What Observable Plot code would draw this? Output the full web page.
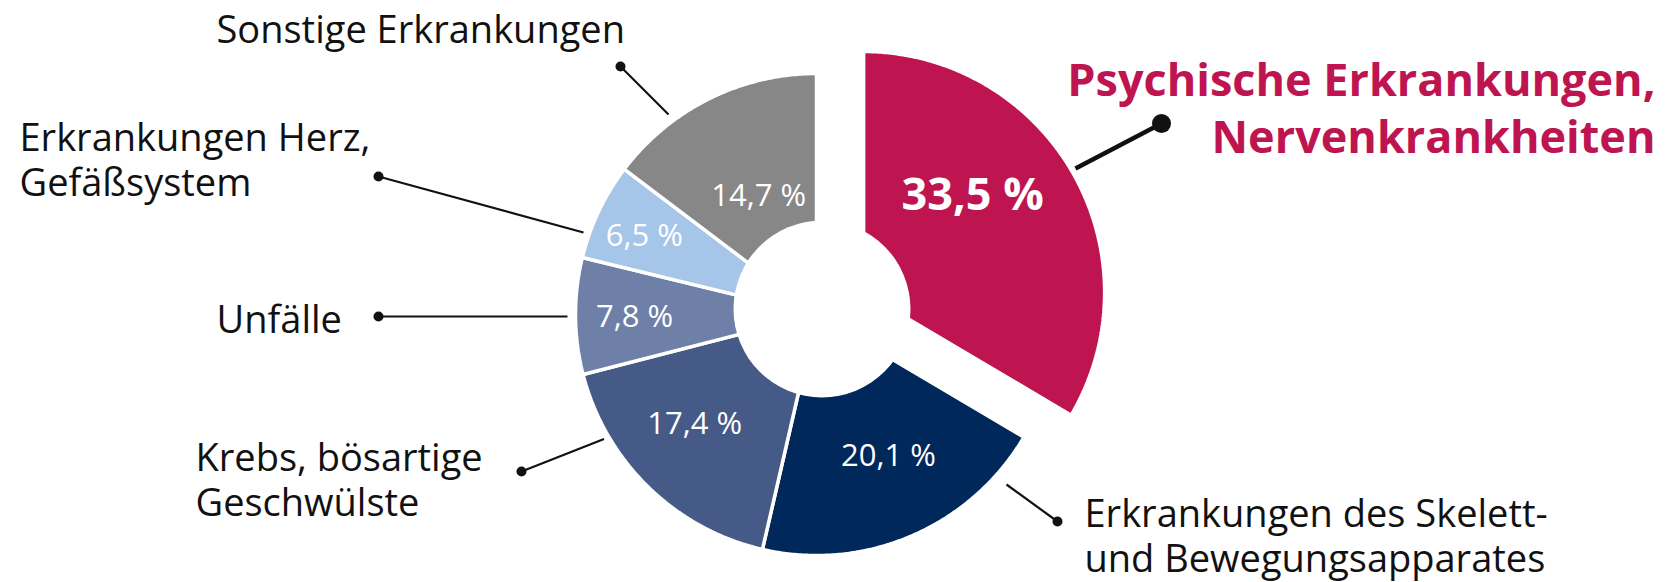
<!DOCTYPE html>
<html>
<head>
<meta charset="utf-8">
<script src="https://cdn.jsdelivr.net/npm/d3@7"></script>
<script src="https://cdn.jsdelivr.net/npm/@observablehq/plot@0.6"></script>
<style>
  html, body { margin: 0; padding: 0; background: #ffffff; }
  #chart { width: 1669px; height: 582px; }
</style>
</head>
<body>
<div id="chart"></div>
<script>
// ---------- DATA ----------
const categories = [
  "Psychische Erkrankungen,\nNervenkrankheiten",
  "Erkrankungen des Skelett-\nund Bewegungsapparates",
  "Krebs, bösartige\nGeschwülste",
  "Unfälle",
  "Erkrankungen Herz,\nGefäßsystem",
  "Sonstige Erkrankungen"
];
const values = [33.5, 20.1, 17.4, 7.8, 6.5, 14.7];
const valueLabels = ["33,5 %", "20,1 %", "17,4 %", "7,8 %", "6,5 %", "14,7 %"];
const colors = ["#BE1450", "#00285A", "#465A87", "#6E80A8", "#A5C6E8", "#878787"];

// ---------- LAYOUT (pixel units of the plot frame) ----------
const W = 1669, H = 582;
const center = {x: 816, y: 314};
const outerR = 241;
const hole = {x: 821.5, y: 308.5, r: 88.5};
const explode = {index: 0, distance: 52, angle: 65};
const valueLabelR = [146, 159, 164, 182, 189, 132];
const valueLabelDA = [-12, -3.7, 3.7, -0.6, -1, 0.5];
const leaderStart = [[1075, 168], [1006, 484], [603.5, 438.5], [567, 316], [583, 232], [668, 114]];
const leaderEnd   = [[1161, 123], [1057, 521], [521, 471], [378, 316], [378, 176], [620, 66]];
const labelPos = [
  {x: 1655, y: 105.5, anchor: "end"},
  {x: 1084, y: 535, anchor: "start"},
  {x: 195, y: 478.5, anchor: "start"},
  {x: 216, y: 318, anchor: "start"},
  {x: 19, y: 159, anchor: "start"},
  {x: 216, y: 28, anchor: "start"}
];

// ---------- GEOMETRY ----------
const rad = d => d * Math.PI / 180;
const polar = (cx, cy, r, deg) => [cx + r * Math.sin(rad(deg)), cy - r * Math.cos(rad(deg))];
const total = d3.sum(values);
let acc = 0;
const slices = values.map((v, i) => {
  const a0 = acc / total * 360;
  acc += v;
  const a1 = acc / total * 360;
  let cx = center.x, cy = center.y;
  if (i === explode.index) {
    const [ex, ey] = polar(0, 0, explode.distance, explode.angle);
    cx += ex; cy += ey;
  }
  const pts = [{x: cx, y: cy}];
  const n = Math.max(2, Math.ceil((a1 - a0) / 0.5));
  for (let k = 0; k <= n; k++) {
    const [x, y] = polar(cx, cy, outerR, a0 + (a1 - a0) * k / n);
    pts.push({x, y});
  }
  pts.push({x: cx, y: cy});
  const mid = (a0 + a1) / 2;
  const [lx, ly] = polar(cx, cy, valueLabelR[i], mid + valueLabelDA[i]);
  return {i, a0, a1, cx, cy, pts, lx, ly, label: valueLabels[i], color: colors[i]};
});

const leaders = categories.map((c, i) => ({
  x1: leaderStart[i][0], y1: leaderStart[i][1],
  x2: leaderEnd[i][0], y2: leaderEnd[i][1], i
}));
const labels = categories.map((c, i) => ({text: c, ...labelPos[i], i}));

const marks = [];
slices.forEach(s => {
  marks.push(Plot.line(s.pts, {x: "x", y: "y", fill: s.color, stroke: "white", strokeWidth: 3.5, strokeLinejoin: "miter"}));
});
marks.push(Plot.dot([hole], {x: "x", y: "y", r: hole.r, fill: "white", stroke: "none"}));
marks.push(Plot.text(slices.filter(s => s.i !== 0), {x: "lx", y: "ly", text: "label", fill: "white", fontSize: 31, fontFamily: "Open Sans", textAnchor: "middle"}));
marks.push(Plot.text(slices.filter(s => s.i === 0), {x: "lx", y: "ly", text: "label", fill: "white", fontSize: 45, fontWeight: 700, fontFamily: "Open Sans", textAnchor: "middle"}));
marks.push(Plot.link(leaders.filter(d => d.i !== 0), {x1: "x1", y1: "y1", x2: "x2", y2: "y2", stroke: "#111111", strokeWidth: 2.2}));
marks.push(Plot.link(leaders.filter(d => d.i === 0), {x1: "x1", y1: "y1", x2: "x2", y2: "y2", stroke: "#111111", strokeWidth: 4.5}));
marks.push(Plot.dot(leaders.filter(d => d.i !== 0), {x: "x2", y: "y2", r: 5, fill: "#111111", stroke: "none"}));
marks.push(Plot.dot(leaders.filter(d => d.i === 0), {x: "x2", y: "y2", r: 9.5, fill: "#111111", stroke: "none"}));
marks.push(Plot.text(labels.filter(d => d.i !== 0 && d.anchor === "start"), {x: "x", y: "y", text: "text", textAnchor: "start", fill: "#111111", fontSize: 38, fontFamily: "Open Sans", lineHeight: 1.18}));
marks.push(Plot.text(labels.filter(d => d.i === 0), {x: "x", y: "y", text: "text", textAnchor: "end", fill: colors[0], fontSize: 45, fontWeight: 700, fontFamily: "Open Sans", lineHeight: 1.27}));

const chart = Plot.plot({
  width: W,
  height: H,
  margin: 0,
  x: {domain: [0, W], range: [0, W], axis: null},
  y: {domain: [0, H], range: [0, H], axis: null},
  style: {background: "white", fontFamily: "Open Sans"},
  marks
});
document.getElementById("chart").appendChild(chart);
</script>
</body>
</html>
